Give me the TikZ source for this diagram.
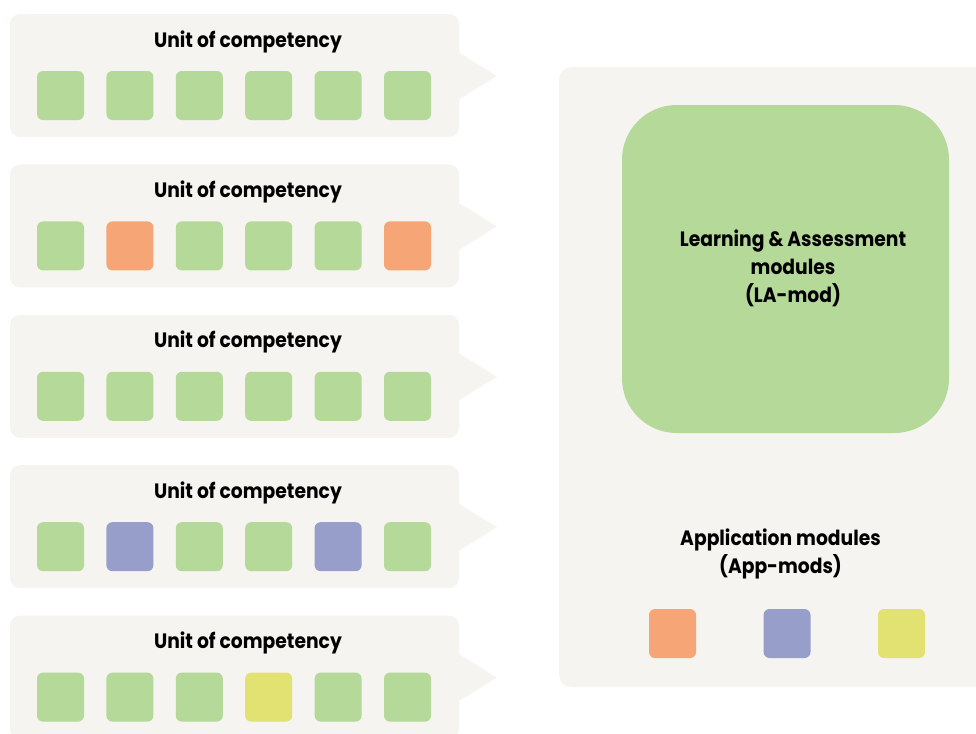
\documentclass[tikz,border=0pt]{standalone}
\usepackage{fontspec}
\setmainfont{Poppins}
\newfontfamily\labelfont{Poppins}[FakeStretch=0.9]
\begin{document}
\begin{tikzpicture}[x=0.75pt,y=-0.75pt,
  tile/.style={rectangle, rounded corners=4.5pt, minimum width=35.25pt,
    minimum height=36.75pt, inner sep=0pt, fill=#1},
  title/.style={font=\labelfont\bfseries\fontsize{15.6}{21}\selectfont,
    text=black, inner sep=0pt, align=center}]
\definecolor{paper}{RGB}{245,244,240}
\definecolor{leaf}{RGB}{181,217,152}
\definecolor{peach}{RGB}{245,165,118}
\definecolor{slate}{RGB}{150,158,201}
\definecolor{lime}{RGB}{226,226,114}

\path[use as bounding box] (0,0) rectangle (976,733);
\clip (0,0) rectangle (976,733);

% five unit-of-competency panels, each with a pointer to the right
\foreach \k/\cols in {0/{leaf,leaf,leaf,leaf,leaf,leaf},
                      1/{leaf,peach,leaf,leaf,leaf,peach},
                      2/{leaf,leaf,leaf,leaf,leaf,leaf},
                      3/{leaf,slate,leaf,leaf,slate,leaf},
                      4/{leaf,leaf,leaf,lime,leaf,leaf}} {
  \pgfmathsetmacro{\top}{14+150.4*\k}
  \fill[paper, rounded corners=7.5pt] (10,\top) rectangle (459,\top+123);
  \fill[paper] (458,\top+38) -- (497,\top+62) -- (458,\top+86) -- cycle;
  \node[title] (u\k) at (248,\top+27.5) {Unit of competency};
  \foreach \c [count=\i from 0] in \cols {
    \node[tile=\c] (u\k s\i) at ({60.5+69.4*\i},\top+81.5) {};
  }
}

% modules panel
\fill[paper, rounded corners=9pt] (559,67) rectangle (995,687);
\node[rectangle, rounded corners=41pt, fill=leaf, minimum width=245.25pt,
  minimum height=246pt, inner sep=0pt] (la) at (785.5,269) {};
\node[title] (latext) at (793,268.5) {Learning \& Assessment\\modules\\(LA-mod)};
\node[title] (apptext) at (780.5,553.5) {Application modules\\(App-mods)};
\node[tile=peach] (a1) at (672.5,633.5) {};
\node[tile=slate] (a2) at (787,633.5) {};
\node[tile=lime] (a3) at (901.5,633.5) {};
\end{tikzpicture}
\end{document}
